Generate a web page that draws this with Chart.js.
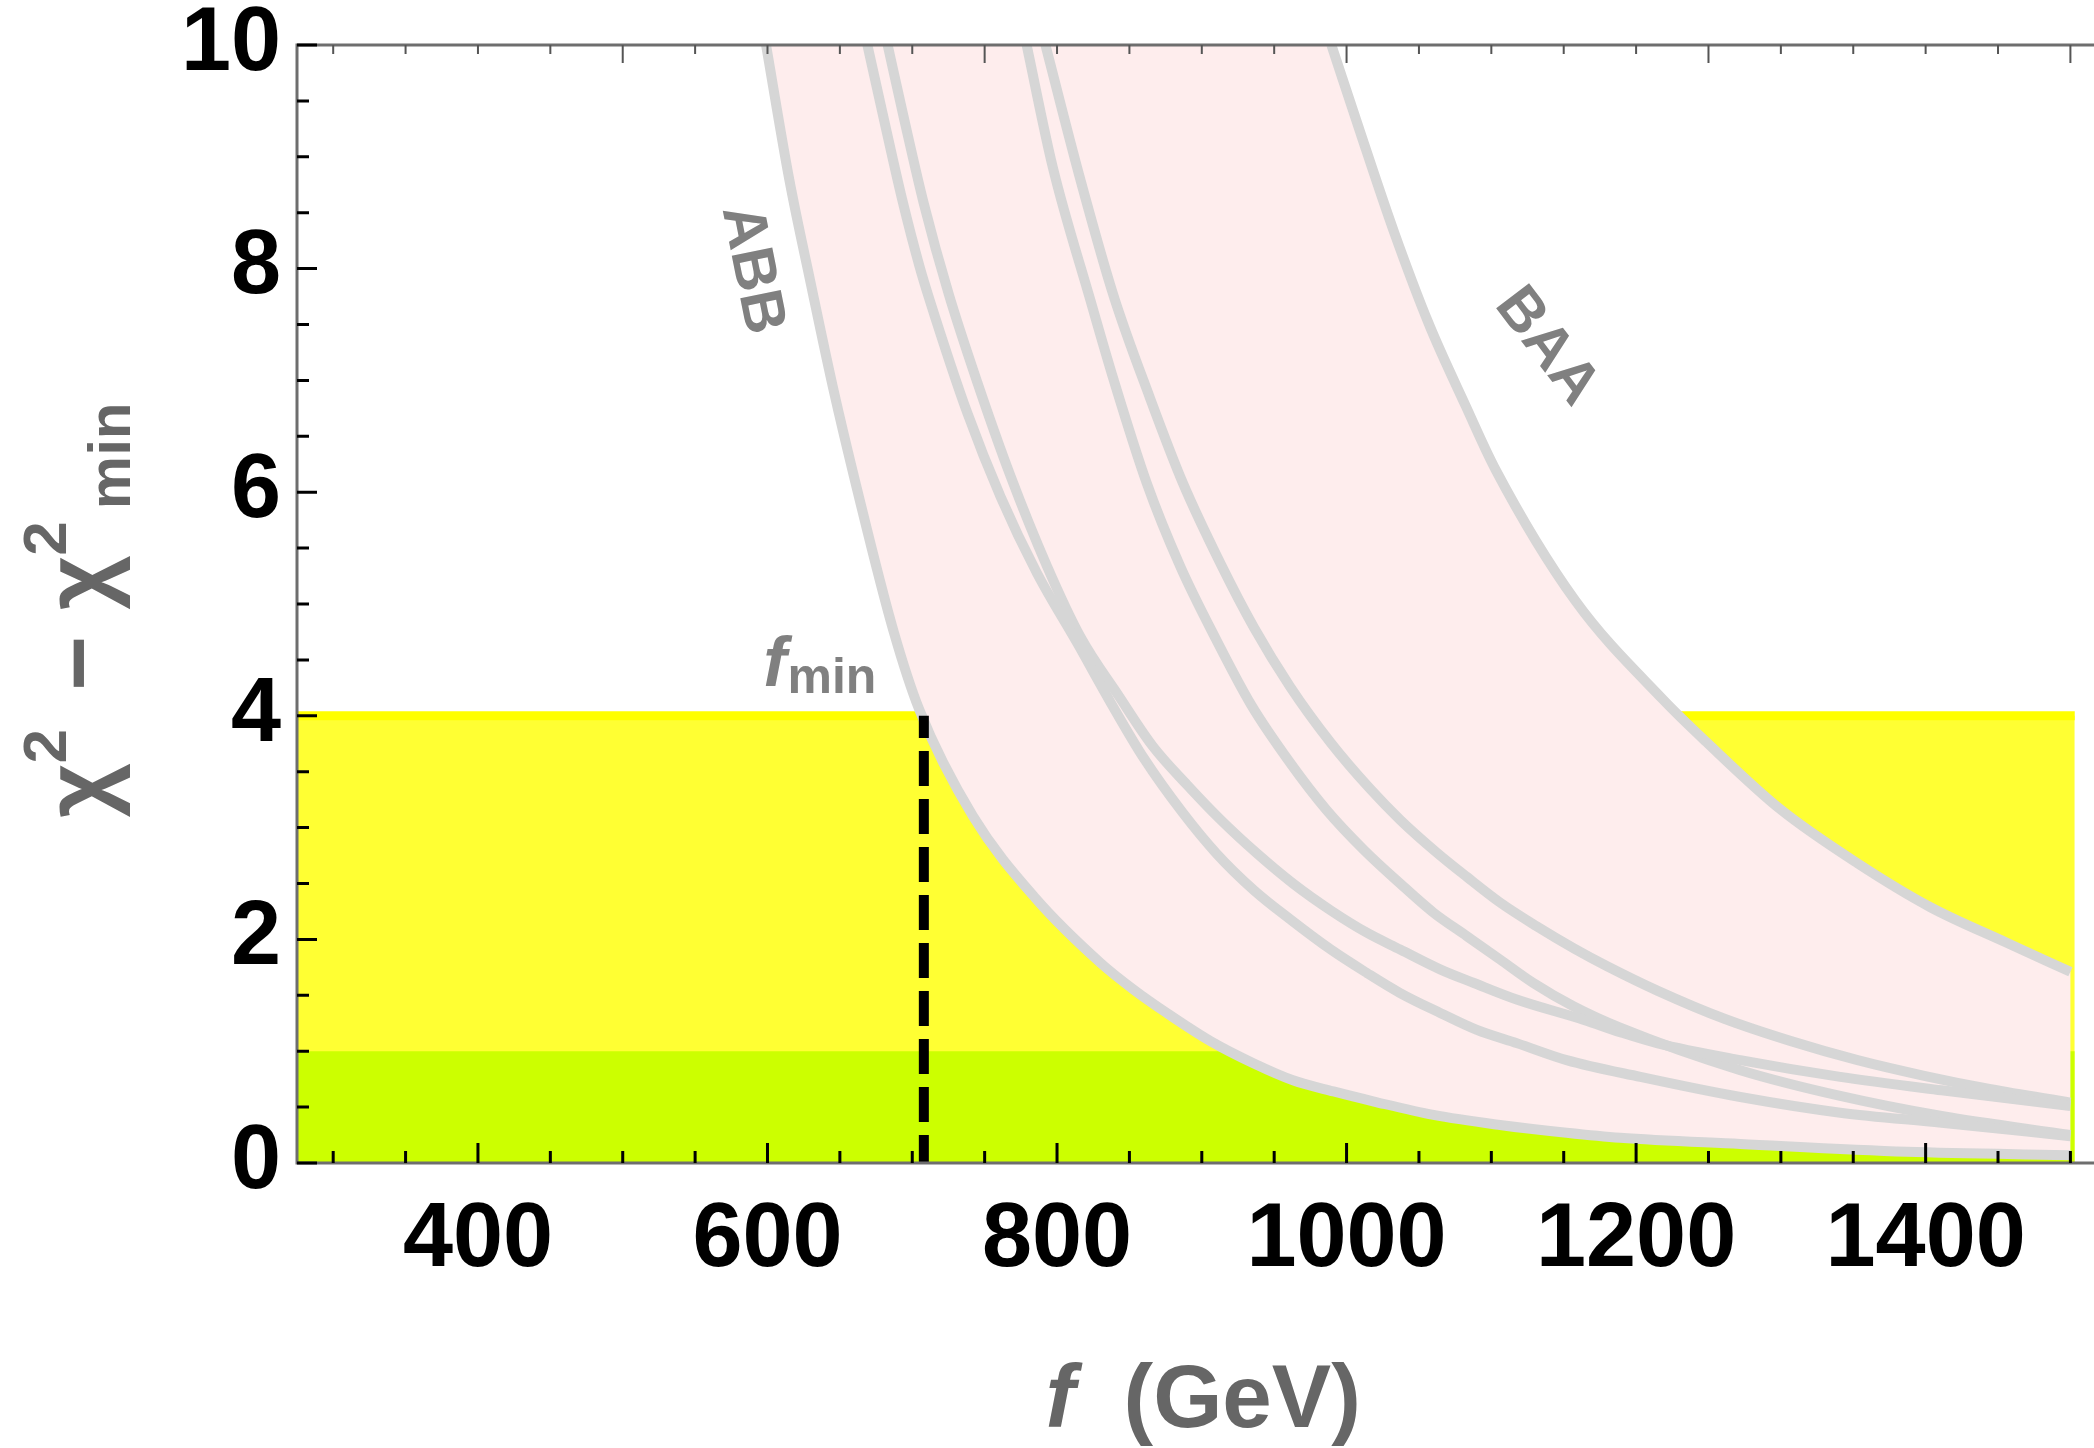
<!DOCTYPE html>
<html>
<head>
<meta charset="utf-8">
<title>chi2 - chi2min vs f</title>
<script src="https://cdn.jsdelivr.net/npm/chart.js@4.4.1/dist/chart.umd.min.js"></script>
<style>
  html, body { margin: 0; padding: 0; background: #ffffff; }
  #wrap { width: 2094px; height: 1448px; }
</style>
</head>
<body>
<div id="wrap"><canvas id="chi2Chart" width="2094" height="1448"></canvas></div>
<script>
// axis ranges
const fAxisMin = 275;
const fAxisMax = 1516.3;
const chiAxisMin = 0;
const chiAxisMax = 10;

// curves: f (GeV) and chi^2 - chi^2_min
const fABB   = [599, 615, 630, 645, 662, 687, 705, 742, 785, 830, 853, 876, 906, 936, 963, 991, 1019, 1060, 1106, 1152, 1189, 1272, 1387, 1500];
const chiABB = [10, 8.80, 7.86, 6.95, 6.02, 4.76, 4.05, 3.10, 2.37, 1.79, 1.55, 1.34, 1.09, 0.89, 0.74, 0.64, 0.55, 0.43, 0.34, 0.27, 0.225, 0.17, 0.10, 0.07];

const fCurve2   = [669, 680, 693, 705, 712, 738, 761, 786, 814, 837, 860, 887, 910, 936, 961, 989, 1014, 1037, 1065, 1090, 1118, 1152, 1203, 1272, 1341, 1411, 1500];
const chiCurve2 = [10, 9.36, 8.62, 8.02, 7.72, 6.71, 5.96, 5.28, 4.65, 4.12, 3.62, 3.13, 2.77, 2.44, 2.18, 1.91, 1.70, 1.52, 1.34, 1.19, 1.07, 0.92, 0.77, 0.59, 0.45, 0.36, 0.24];

const fCurve3   = [683, 694, 708, 725, 745, 768, 793, 816, 843, 866, 890, 913, 938, 963, 989, 1014, 1037, 1065, 1088, 1118, 1164, 1189, 1215, 1272, 1341, 1411, 1500];
const chiCurve3 = [10, 9.36, 8.58, 7.78, 6.98, 6.14, 5.34, 4.71, 4.17, 3.73, 3.38, 3.07, 2.77, 2.50, 2.26, 2.06, 1.91, 1.73, 1.61, 1.46, 1.28, 1.17, 1.07, 0.92, 0.77, 0.65, 0.51];

const fCurve4   = [779, 797, 823, 839, 862, 885, 910, 934, 961, 986, 1012, 1037, 1060, 1083, 1106, 1129, 1157, 1189, 1272, 1341, 1411, 1500];
const chiCurve4 = [10, 8.91, 7.72, 7.01, 6.08, 5.34, 4.68, 4.10, 3.58, 3.16, 2.80, 2.50, 2.24, 2.03, 1.82, 1.61, 1.40, 1.21, 0.83, 0.60, 0.42, 0.25];

const fCurve5   = [792, 815, 839, 864, 887, 913, 936, 961, 989, 1016, 1037, 1062, 1083, 1106, 1131, 1157, 1180, 1215, 1261, 1307, 1353, 1399, 1445, 1500];
const chiCurve5 = [10, 8.85, 7.76, 6.85, 6.08, 5.36, 4.79, 4.26, 3.76, 3.35, 3.07, 2.78, 2.56, 2.33, 2.12, 1.92, 1.76, 1.54, 1.29, 1.09, 0.92, 0.78, 0.66, 0.54];

const fBAA   = [989.5, 1012, 1033, 1057, 1082, 1103, 1158, 1219, 1249, 1300, 1353, 1403, 1456, 1500];
const chiBAA = [10, 9.12, 8.32, 7.50, 6.78, 6.20, 5.03, 4.14, 3.76, 3.16, 2.68, 2.29, 1.97, 1.71];

// confidence bands and f_min
const bandF = [275, 1503];
const band2Sigma = 4;
const band1Sigma = 1;
const fMinValue = 708;

// ticks
const xMajor = [400, 600, 800, 1000, 1200, 1400];
const xMinor = [300, 350, 450, 500, 550, 650, 700, 750, 850, 900, 950, 1050, 1100, 1150, 1250, 1300, 1350, 1450, 1500];
const topMajor = [500, 750, 1000, 1250, 1500];
const topMinor = [300, 350, 400, 450, 550, 600, 650, 700, 800, 850, 900, 950, 1050, 1100, 1150, 1200, 1300, 1350, 1400, 1450];
const yMajor = [0, 2, 4, 6, 8, 10];
const yMinor = [0.5, 1, 1.5, 2.5, 3, 3.5, 4.5, 5, 5.5, 6.5, 7, 7.5, 8.5, 9, 9.5];

const toPoints = (fs, vs) => fs.map((f, i) => ({x: f, y: vs[i]}));

const FONT = '"Liberation Sans", Arial, sans-serif';
const curveColor = '#d6d6d6';

// pink region between ABB and BAA (closed above the frame so it clips away)
const pinkShape = toPoints(fABB, chiABB)
  .concat(toPoints(fBAA, chiBAA).reverse())
  .concat([{x: fBAA[fBAA.length - 1], y: chiAxisMax + 0.6}]);

function curveDataset(fs, vs) {
  return {
    data: toPoints(fs, vs),
    borderColor: curveColor,
    borderWidth: 10,
    pointRadius: 0,
    fill: false,
    cubicInterpolationMode: 'monotone',
    order: 2
  };
}

const datasets = [
  {
    // f_min dashed line
    data: [{x: fMinValue, y: 0}, {x: fMinValue, y: band2Sigma}],
    borderColor: '#000000',
    borderWidth: 10,
    borderDash: [35, 13],
    borderDashOffset: 7,
    pointRadius: 0,
    fill: false,
    order: 1
  },
  curveDataset(fABB, chiABB),
  curveDataset(fCurve2, chiCurve2),
  curveDataset(fCurve3, chiCurve3),
  curveDataset(fCurve4, chiCurve4),
  curveDataset(fCurve5, chiCurve5),
  curveDataset(fBAA, chiBAA),
  {
    data: pinkShape,
    borderWidth: 0,
    borderColor: 'rgba(0,0,0,0)',
    backgroundColor: '#feeded',
    pointRadius: 0,
    tension: 0,
    fill: 'shape',
    order: 3
  },
  {
    data: [{x: bandF[0], y: band1Sigma}, {x: bandF[1], y: band1Sigma}],
    borderWidth: 0,
    borderColor: 'rgba(0,0,0,0)',
    backgroundColor: '#ccff00',
    pointRadius: 0,
    fill: 'origin',
    order: 4
  },
  {
    data: [{x: bandF[0], y: band2Sigma}, {x: bandF[1], y: band2Sigma}],
    borderWidth: 9,
    borderColor: '#ffff00',
    backgroundColor: '#ffff33',
    pointRadius: 0,
    fill: 'origin',
    order: 5
  }
];

// text runs drawn one after another on a common baseline
function drawRuns(ctx, runs, x0, y0) {
  let cx = x0;
  runs.forEach(r => {
    ctx.font = r.font;
    ctx.fillText(r.text, cx, y0 + (r.dy || 0));
    cx += ctx.measureText(r.text).width + (r.gap || 0);
  });
}
function runsWidth(ctx, runs) {
  let w = 0;
  runs.forEach(r => { ctx.font = r.font; w += ctx.measureText(r.text).width + (r.gap || 0); });
  return w;
}

const framePlugin = {
  id: 'frame',
  afterDatasetsDraw(chart) {
    const {ctx, chartArea: a, scales: {x, y}} = chart;
    ctx.save();

    // frame lines
    ctx.strokeStyle = '#6e6e6e';
    ctx.lineWidth = 3;
    ctx.beginPath();
    ctx.moveTo(a.left, a.top); ctx.lineTo(a.right, a.top);
    ctx.moveTo(a.left, a.top - 1.5); ctx.lineTo(a.left, a.bottom + 1.5);
    ctx.moveTo(a.left, a.bottom); ctx.lineTo(a.right, a.bottom);
    ctx.stroke();

    // inward ticks, left and bottom
    ctx.strokeStyle = '#000000';
    ctx.lineWidth = 3;
    ctx.beginPath();
    yMajor.forEach(v => { const p = y.getPixelForValue(v); ctx.moveTo(a.left, p); ctx.lineTo(a.left + 20, p); });
    yMinor.forEach(v => { const p = y.getPixelForValue(v); ctx.moveTo(a.left, p); ctx.lineTo(a.left + 12, p); });
    xMajor.forEach(f => { const p = x.getPixelForValue(f); ctx.moveTo(p, a.bottom); ctx.lineTo(p, a.bottom - 20); });
    xMinor.forEach(f => { const p = x.getPixelForValue(f); ctx.moveTo(p, a.bottom); ctx.lineTo(p, a.bottom - 12); });
    ctx.stroke();

    // top ticks
    ctx.strokeStyle = '#555555';
    ctx.lineWidth = 2;
    ctx.beginPath();
    topMajor.forEach(f => { const p = x.getPixelForValue(f); ctx.moveTo(p, a.top); ctx.lineTo(p, a.top + 18); });
    topMinor.forEach(f => { const p = x.getPixelForValue(f); ctx.moveTo(p, a.top); ctx.lineTo(p, a.top + 9); });
    ctx.stroke();

    // curve labels
    ctx.fillStyle = '#808080';
    ctx.textAlign = 'center';
    ctx.textBaseline = 'middle';
    const label = (text, f, v, deg) => {
      ctx.save();
      ctx.translate(x.getPixelForValue(f), y.getPixelForValue(v));
      ctx.rotate(deg * Math.PI / 180);
      ctx.font = 'bold 60px ' + FONT;
      ctx.fillText(text, 0, 0);
      ctx.restore();
    };
    label('ABB', 589, 7.99, 78.7);
    label('BAA', 1138, 7.30, 52.8);

    // f_min label
    ctx.textAlign = 'left';
    ctx.textBaseline = 'alphabetic';
    const fx = x.getPixelForValue(597);
    const fy = y.getPixelForValue(4.2);
    drawRuns(ctx, [
      {text: 'f', font: 'italic bold 70px ' + FONT, gap: 1, dy: -7},
      {text: 'min', font: 'bold 50px ' + FONT}
    ], fx, fy);

    ctx.restore();
  },
  afterDraw(chart) {
    const {ctx, chartArea: a} = chart;
    ctx.save();
    ctx.fillStyle = '#666666';
    ctx.textAlign = 'left';
    ctx.textBaseline = 'alphabetic';

    // y axis title: chi^2 - chi^2_min
    const main = 'bold 94px ' + FONT;
    const sup = 'bold 62px ' + FONT;
    const sub = 'bold 60px ' + FONT;
    const yRuns = [
      {text: '\u03C7', font: main},
      {text: '2', font: sup, dy: -44, gap: 12},
      {text: ' \u2212 ', font: main},
      {text: '\u03C7', font: main},
      {text: '2', font: sup, dy: -44, gap: 12},
      {text: 'min', font: sub, dy: 20}
    ];
    const yw = runsWidth(ctx, yRuns);
    const yc = (a.top + a.bottom) / 2 + 6;
    ctx.save();
    ctx.translate(110, yc + yw / 2);
    ctx.rotate(-Math.PI / 2);
    drawRuns(ctx, yRuns, 0, 0);
    ctx.restore();

    // x axis title: f (GeV)
    const xc = (a.left + a.right) / 2;
    ctx.font = 'italic bold 89px ' + FONT;
    ctx.fillText('f', xc - 150, 1427);
    ctx.font = 'bold 89px ' + FONT;
    ctx.fillText('(GeV)', xc - 72, 1427);

    ctx.restore();
  }
};

new Chart(document.getElementById('chi2Chart'), {
  type: 'line',
  data: { datasets: datasets },
  options: {
    responsive: false,
    devicePixelRatio: 1,
    animation: false,
    events: [],
    layout: { padding: { top: 45, right: 0, left: 0, bottom: 0 } },
    plugins: {
      legend: { display: false },
      tooltip: { enabled: false },
      title: { display: false }
    },
    scales: {
      x: {
        type: 'linear',
        min: fAxisMin,
        max: fAxisMax,
        grid: { display: false, drawTicks: false },
        border: { display: false },
        afterBuildTicks: axis => { axis.ticks = xMajor.map(v => ({value: v})); },
        afterFit: axis => { axis.height = 285; axis.paddingLeft = 0; axis.paddingRight = 0; },
        ticks: {
          autoSkip: false,
          maxRotation: 0,
          padding: 24,
          color: '#000000',
          font: { family: FONT, size: 90, weight: 'bold' },
          callback: v => String(v)
        }
      },
      y: {
        type: 'linear',
        min: chiAxisMin,
        max: chiAxisMax,
        grid: { display: false, drawTicks: false },
        border: { display: false },
        afterBuildTicks: axis => { axis.ticks = yMajor.map(v => ({value: v})); },
        afterFit: axis => { axis.width = 297; axis.paddingTop = 0; axis.paddingBottom = 0; },
        ticks: {
          padding: 16,
          color: '#000000',
          font: { family: FONT, size: 90, weight: 'bold' },
          callback: v => String(v)
        }
      }
    }
  },
  plugins: [framePlugin]
});
</script>
</body>
</html>
